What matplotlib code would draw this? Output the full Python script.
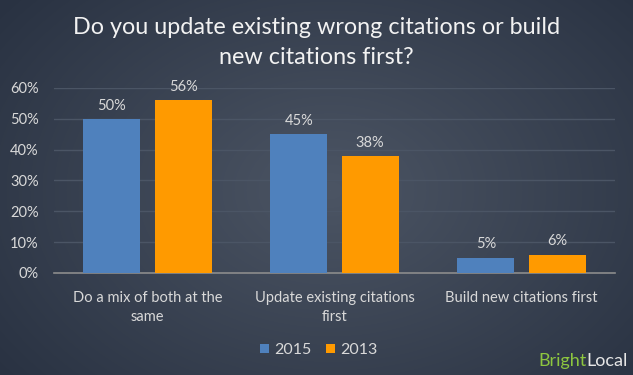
import numpy as np
import matplotlib
matplotlib.use("Agg")
import matplotlib.pyplot as plt

categories = ["Do a mix of both at the\nsame", "Update existing citations\nfirst", "Build new citations first"]
series_names = ["2015", "2013"]
values_2015 = [50, 45, 5]
values_2013 = [56, 38, 6]
yticks = [0, 10, 20, 30, 40, 50, 60]

txt = "#d9d9d9"
font = "Lato"

fig = plt.figure(figsize=(6.33, 3.75), dpi=100)

# radial background
bg = fig.add_axes([0, 0, 1, 1], zorder=-10)
yy, xx = np.mgrid[0:375, 0:633]
r = np.sqrt(((xx - 330) / 420.0) ** 2 + ((yy - 190) / 300.0) ** 2)
r = np.clip(r, 0, 1)
c0 = np.array([0x4c, 0x55, 0x64]) / 255
c1 = np.array([0x29, 0x32, 0x42]) / 255
img = c0[None, None, :] * (1 - r[..., None]) + c1[None, None, :] * r[..., None]
bg.imshow(img, aspect="auto")
bg.axis("off")

ax = fig.add_axes([54 / 633, 1 - 273 / 375, (615 - 54) / 633, (273 - 88) / 375])
ax.set_facecolor("none")

x = np.arange(len(categories))
w = 0.305
off = 0.19
b1 = ax.bar(x - off, values_2015, w, color="#4f81bd", label=series_names[0], zorder=3)
b2 = ax.bar(x + off, values_2013, w, color="#ff9a00", label=series_names[1], zorder=3)

for bars, vals in ((b1, values_2015), (b2, values_2013)):
    for b, v in zip(bars, vals):
        ax.text(b.get_x() + b.get_width() / 2, v + 2, f"{v}%", ha="center", va="bottom",
                color=txt, fontsize=10.5, family=font)

ax.set_xlim(-0.5, 2.5)
ax.set_ylim(0, 60)
ax.set_yticks(yticks)
ax.set_yticklabels([f"{t}%" for t in yticks], color=txt, fontsize=10.5, family=font)
ax.set_xticks(x)
ax.set_xticklabels(categories, color=txt, fontsize=10.5, family=font, linespacing=1.45)
ax.tick_params(length=0)
ax.tick_params(axis="y", pad=11)
ax.tick_params(axis="x", pad=13)
ax.grid(axis="y", color="#4b5565", linewidth=1, zorder=0)
for s in ["top", "right", "left"]:
    ax.spines[s].set_visible(False)
ax.spines["bottom"].set_color("#8c8c8c")
ax.spines["bottom"].set_linewidth(1.2)

fig.text(0.5, 1 - 27 / 375, "Do you update existing wrong citations or build", ha="center", va="center",
         color="#f2f2f2", fontsize=16.8, family=font)
fig.text(0.5, 1 - 57 / 375, "new citations first?", ha="center", va="center",
         color="#f2f2f2", fontsize=16.8, family=font)

leg = fig.legend(handles=[b1, b2], labels=series_names, loc="center", bbox_to_anchor=(319 / 633, 1 - 350 / 375),
                 ncol=2, frameon=False, handlelength=0.55, handleheight=0.55, handletextpad=0.35,
                 columnspacing=0.9, prop={"family": font, "size": 11.5})
for t in leg.get_texts():
    t.set_color(txt)

t2 = fig.text(628 / 633, 1 - 361 / 375, "Local", color="#e6e6e6", fontsize=13,
              family=font, ha="right", va="center")
fig.canvas.draw()
bb = t2.get_window_extent()
fig.text(bb.x0 / 633, 1 - 361 / 375, "Bright", color="#8dc63f", fontsize=13,
         family=font, ha="right", va="center")

fig.savefig("out.png", dpi=100)
